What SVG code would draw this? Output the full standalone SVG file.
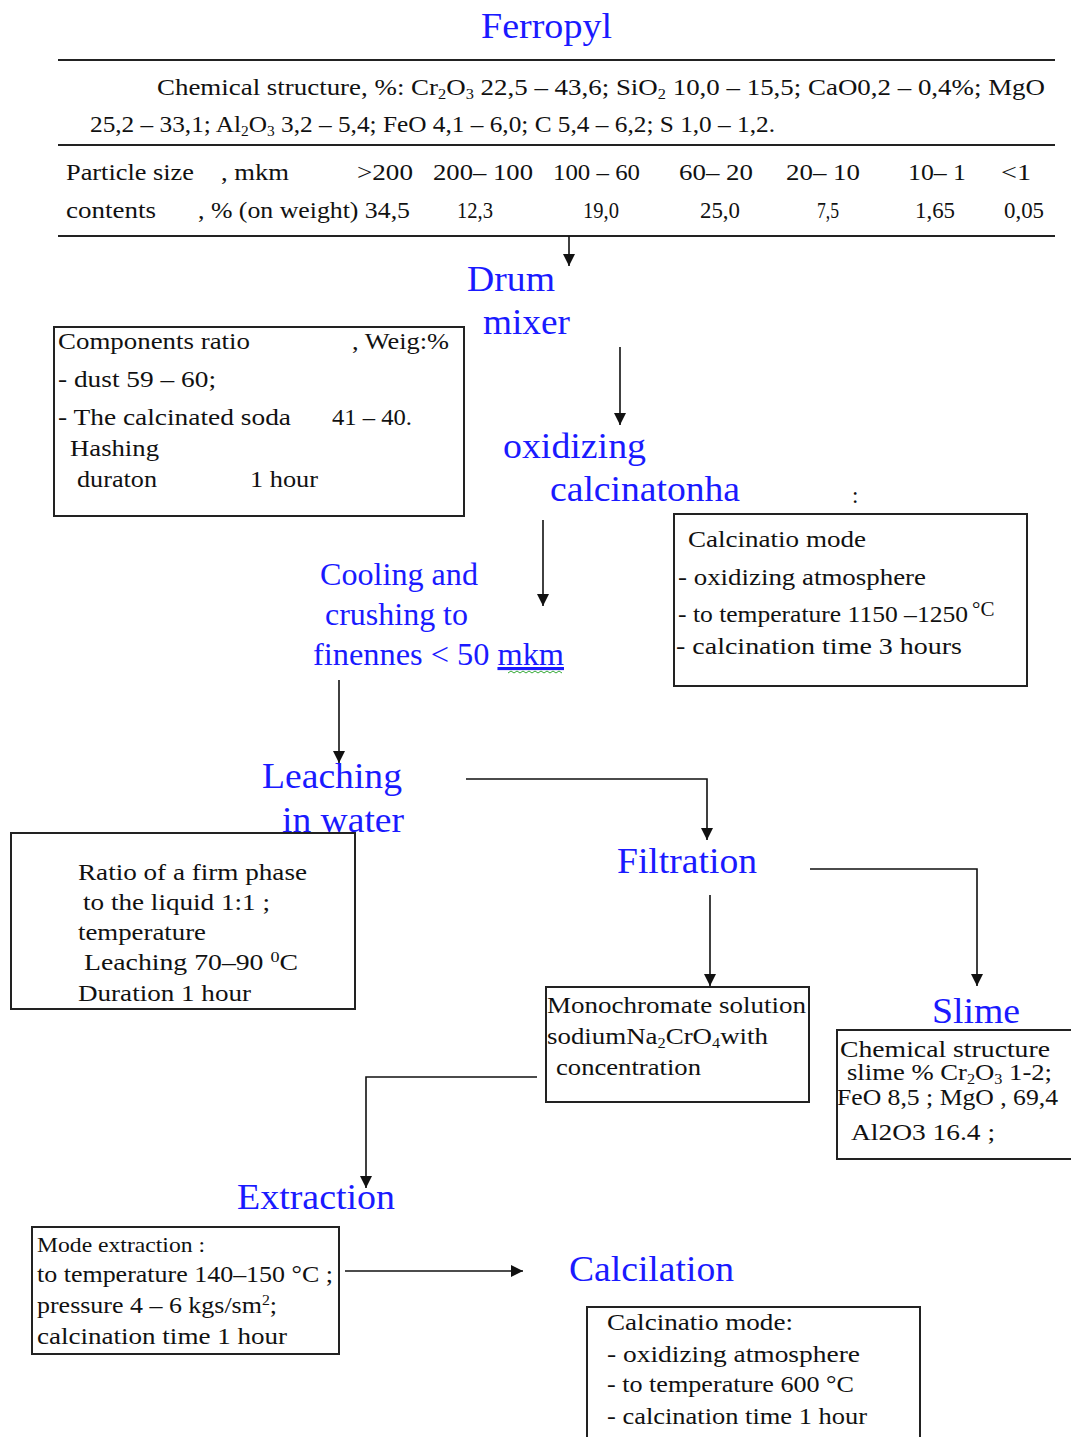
<svg xmlns="http://www.w3.org/2000/svg" width="1071" height="1437" viewBox="0 0 1071 1437">
<style>
text{font-family:"Liberation Serif","Times New Roman",serif;fill:#111}
.t{fill:#1a1aff;font-size:36px}
.c{fill:#1a1aff;font-size:31px}
.b{font-size:23px}
.n{font-size:21px}
.box{fill:none;stroke:#222;stroke-width:2}
.rule{stroke:#222;stroke-width:2}
.con{fill:none;stroke:#111;stroke-width:1.6}
</style>
<defs>
<marker id="ah" markerUnits="userSpaceOnUse" markerWidth="12" markerHeight="14" viewBox="0 0 12 14" refX="12" refY="7" orient="auto">
<path d="M0,1 L12,7 L0,13 Z" fill="#111"/>
</marker>
</defs>
<rect width="1071" height="1437" fill="#fff"/>

<g id="ferropyl">
<text class="t" x="481" y="38" textLength="131" lengthAdjust="spacingAndGlyphs">Ferropyl</text>
<line class="rule" x1="58" y1="60" x2="1055" y2="60"/>
<text class="b" x="157" y="95" textLength="888" lengthAdjust="spacingAndGlyphs">Chemical  structure, %: Cr<tspan font-size="14" dy="4">2</tspan><tspan dy="-4">O</tspan><tspan font-size="14" dy="4">3</tspan><tspan dy="-4"> 22,5  – 43,6; SiO</tspan><tspan font-size="14" dy="4">2</tspan><tspan dy="-4"> 10,0 – 15,5; CaO0,2 – 0,4%; MgO</tspan></text>
<text class="b" x="90" y="132" textLength="685" lengthAdjust="spacingAndGlyphs">25,2 – 33,1; Al<tspan font-size="14" dy="4">2</tspan><tspan dy="-4">O</tspan><tspan font-size="14" dy="4">3</tspan><tspan dy="-4"> 3,2 – 5,4; FeO 4,1 – 6,0; C 5,4 – 6,2; S 1,0 – 1,2.</tspan></text>
<line class="rule" x1="58" y1="145" x2="1055" y2="145"/>
<text class="b" x="66" y="180" textLength="128" lengthAdjust="spacingAndGlyphs">Particle size</text>
<text class="b" x="221" y="180" textLength="68" lengthAdjust="spacingAndGlyphs">, mkm</text>
<text class="b" x="357" y="180" textLength="56" lengthAdjust="spacingAndGlyphs">&gt;200</text>
<text class="b" x="433" y="180" textLength="100" lengthAdjust="spacingAndGlyphs">200– 100</text>
<text class="b" x="553" y="180" textLength="87" lengthAdjust="spacingAndGlyphs">100 – 60</text>
<text class="b" x="679" y="180" textLength="74" lengthAdjust="spacingAndGlyphs">60– 20</text>
<text class="b" x="786" y="180" textLength="74" lengthAdjust="spacingAndGlyphs">20– 10</text>
<text class="b" x="908" y="180" textLength="58" lengthAdjust="spacingAndGlyphs">10– 1</text>
<text class="b" x="1001" y="180" textLength="30" lengthAdjust="spacingAndGlyphs">&lt;1</text>
<text class="b" x="66" y="218" textLength="90" lengthAdjust="spacingAndGlyphs">contents</text>
<text class="b" x="198" y="218" textLength="212" lengthAdjust="spacingAndGlyphs">, % (on  weight) 34,5</text>
<text class="b" x="457" y="218" textLength="36" lengthAdjust="spacingAndGlyphs">12,3</text>
<text class="b" x="583" y="218" textLength="36" lengthAdjust="spacingAndGlyphs">19,0</text>
<text class="b" x="700" y="218" textLength="40" lengthAdjust="spacingAndGlyphs">25,0</text>
<text class="b" x="817" y="218" textLength="22" lengthAdjust="spacingAndGlyphs">7,5</text>
<text class="b" x="915" y="218" textLength="40" lengthAdjust="spacingAndGlyphs">1,65</text>
<text class="b" x="1004" y="218" textLength="40" lengthAdjust="spacingAndGlyphs">0,05</text>
<line class="rule" x1="58" y1="236" x2="1055" y2="236"/>
</g>

<g id="drum-mixer">
<text class="t" x="467" y="291" textLength="88" lengthAdjust="spacingAndGlyphs">Drum</text>
<text class="t" x="483" y="334" textLength="87" lengthAdjust="spacingAndGlyphs">mixer</text>
</g>

<g id="components-box">
<rect class="box" x="54" y="327" width="410" height="189"/>
<text class="b" x="58" y="349" textLength="192" lengthAdjust="spacingAndGlyphs">Components ratio</text>
<text class="b" x="352" y="349" textLength="97" lengthAdjust="spacingAndGlyphs">, Weig:%</text>
<text class="b" x="58" y="387" textLength="158" lengthAdjust="spacingAndGlyphs">- dust   59 – 60;</text>
<text class="b" x="58" y="425" textLength="233" lengthAdjust="spacingAndGlyphs">- The calcinated  soda</text>
<text class="b" x="332" y="425" textLength="80" lengthAdjust="spacingAndGlyphs">41 – 40.</text>
<text class="b" x="70" y="456" textLength="89" lengthAdjust="spacingAndGlyphs">Hashing</text>
<text class="b" x="77" y="487" textLength="80" lengthAdjust="spacingAndGlyphs">duraton</text>
<text class="b" x="250" y="487" textLength="68" lengthAdjust="spacingAndGlyphs">1 hour</text>
</g>

<g id="oxidizing-calcination">
<text class="t" x="503" y="458" textLength="143" lengthAdjust="spacingAndGlyphs">oxidizing</text>
<text class="t" x="550" y="501" textLength="190" lengthAdjust="spacingAndGlyphs">calcinatonha</text>
<text class="b" x="852" y="503">:</text>
</g>

<g id="calcination-mode-box">
<rect class="box" x="674" y="514" width="353" height="172"/>
<text class="b" x="688" y="547" textLength="178" lengthAdjust="spacingAndGlyphs">Calcinatio mode</text>
<text class="b" x="678" y="585" textLength="248" lengthAdjust="spacingAndGlyphs">- oxidizing  atmosphere</text>
<text class="b" x="678" y="622" textLength="290" lengthAdjust="spacingAndGlyphs">- to temperature 1150 –1250 </text>
<text x="972" y="616" font-size="21">°C</text>
<text class="b" x="676" y="654" textLength="286" lengthAdjust="spacingAndGlyphs">- calcination time   3  hours</text>
</g>

<g id="cooling">
<text class="c" x="320" y="585" textLength="158" lengthAdjust="spacingAndGlyphs">Cooling  and</text>
<text class="c" x="325" y="625" textLength="143" lengthAdjust="spacingAndGlyphs">crushing  to</text>
<text class="c" x="313" y="665" textLength="251" lengthAdjust="spacingAndGlyphs">finennes  &lt; 50 <tspan text-decoration="underline">mkm</tspan></text>
<path d="M508,673 l3,-2 l3,2 l3,-2 l3,2 l3,-2 l3,2 l3,-2 l3,2 l3,-2 l3,2 l3,-2 l3,2 l3,-2 l3,2 l3,-2 l3,2 l3,-2 l3,2" fill="none" stroke="#3a3" stroke-width="1"/>
</g>

<g id="leaching">
<text class="t" x="262" y="788" textLength="140" lengthAdjust="spacingAndGlyphs">Leaching</text>
<text class="t" x="282" y="832" textLength="122" lengthAdjust="spacingAndGlyphs">in water</text>
</g>

<g id="leaching-box">
<rect class="box" x="11" y="833" width="344" height="176"/>
<text class="b" x="78" y="880" textLength="229" lengthAdjust="spacingAndGlyphs">Ratio of a firm phase</text>
<text class="b" x="83" y="910" textLength="187" lengthAdjust="spacingAndGlyphs">to the liquid 1:1 ;</text>
<text class="b" x="78" y="940" textLength="128" lengthAdjust="spacingAndGlyphs">temperature</text>
<text class="b" x="84" y="970" textLength="214" lengthAdjust="spacingAndGlyphs">Leaching 70–90  <tspan font-size="15" dy="-8">0</tspan><tspan dy="8">C</tspan></text>
<text class="b" x="78" y="1001" textLength="173" lengthAdjust="spacingAndGlyphs">Duration 1 hour</text>
</g>

<g id="filtration">
<text class="t" x="617" y="873" textLength="140" lengthAdjust="spacingAndGlyphs">Filtration</text>
</g>

<g id="slime">
<text class="t" x="932" y="1023" textLength="88" lengthAdjust="spacingAndGlyphs">Slime</text>
</g>

<g id="monochromate-box">
<rect class="box" x="546" y="987" width="263" height="115"/>
<text class="b" x="547" y="1013" textLength="259" lengthAdjust="spacingAndGlyphs">Monochromate solution</text>
<text class="b" x="547" y="1044" textLength="221" lengthAdjust="spacingAndGlyphs">sodiumNa<tspan font-size="14" dy="4">2</tspan><tspan dy="-4">CrO</tspan><tspan font-size="14" dy="4">4</tspan><tspan dy="-4">with</tspan></text>
<text class="b" x="556" y="1075" textLength="145" lengthAdjust="spacingAndGlyphs">concentration</text>
</g>

<g id="slime-box">
<rect class="box" x="837" y="1030" width="240" height="129"/>
<text class="b" x="840" y="1057" textLength="210" lengthAdjust="spacingAndGlyphs">Chemical  structure</text>
<text class="b" x="847" y="1080" textLength="205" lengthAdjust="spacingAndGlyphs">slime % Cr<tspan font-size="14" dy="4">2</tspan><tspan dy="-4">O</tspan><tspan font-size="14" dy="4">3</tspan><tspan dy="-4"> 1-2;</tspan></text>
<text class="b" x="837" y="1105" textLength="221" lengthAdjust="spacingAndGlyphs">FeO 8,5 ; MgO , 69,4</text>
<text class="b" x="851" y="1140" textLength="144" lengthAdjust="spacingAndGlyphs">Al2O3  16.4 ;</text>
</g>

<g id="extraction">
<text class="t" x="237" y="1209" textLength="158" lengthAdjust="spacingAndGlyphs">Extraction</text>
</g>

<g id="extraction-box">
<rect class="box" x="32" y="1227" width="307" height="127"/>
<text class="n" x="37" y="1252" textLength="168" lengthAdjust="spacingAndGlyphs">Mode extraction :</text>
<text class="b" x="37" y="1282" textLength="296" lengthAdjust="spacingAndGlyphs">to temperature 140–150 °C ;</text>
<text class="b" x="37" y="1313" textLength="240" lengthAdjust="spacingAndGlyphs">pressure   4 – 6 kgs/sm<tspan font-size="14" dy="-8">2</tspan><tspan dy="8">;</tspan></text>
<text class="b" x="37" y="1344" textLength="250" lengthAdjust="spacingAndGlyphs">calcination time 1 hour</text>
</g>

<g id="calcilation">
<text class="t" x="569" y="1281" textLength="165" lengthAdjust="spacingAndGlyphs">Calcilation</text>
</g>

<g id="calcilation-box">
<rect class="box" x="587" y="1307" width="333" height="140"/>
<text class="b" x="607" y="1330" textLength="186" lengthAdjust="spacingAndGlyphs">Calcinatio mode:</text>
<text class="b" x="607" y="1362" textLength="253" lengthAdjust="spacingAndGlyphs">- oxidizing  atmosphere</text>
<text class="b" x="607" y="1392" textLength="247" lengthAdjust="spacingAndGlyphs">- to temperature 600 °C</text>
<text class="b" x="607" y="1424" textLength="260" lengthAdjust="spacingAndGlyphs">- calcination time 1 hour</text>
</g>

<g id="connectors">
<path class="con" d="M569,236 V266" marker-end="url(#ah)"/>
<path class="con" d="M620,347 V425" marker-end="url(#ah)"/>
<path class="con" d="M543,520 V606" marker-end="url(#ah)"/>
<path class="con" d="M339,680 V763" marker-end="url(#ah)"/>
<path class="con" d="M466,779 H707 V840" marker-end="url(#ah)"/>
<path class="con" d="M710,895 V986" marker-end="url(#ah)"/>
<path class="con" d="M810,869 H977 V986" marker-end="url(#ah)"/>
<path class="con" d="M537,1077 H366 V1188" marker-end="url(#ah)"/>
<path class="con" d="M345,1271 H523" marker-end="url(#ah)"/>
</g>
</svg>
